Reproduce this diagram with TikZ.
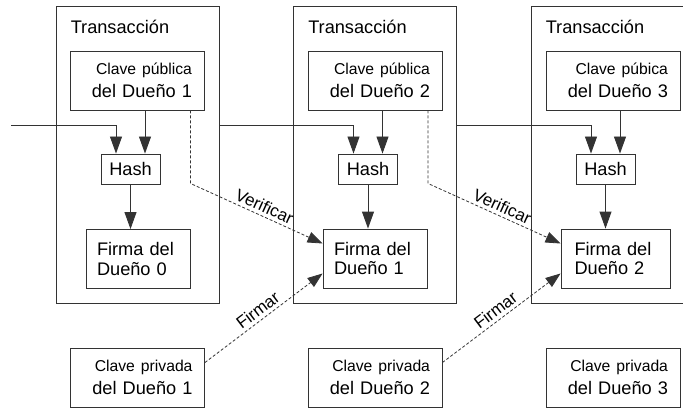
\documentclass[tikz,border=0pt]{standalone}
\usepackage{fontspec}
\setmainfont{Liberation Sans}
\usetikzlibrary{arrows.meta,positioning}
\newcommand\bigtxt{\fontsize{18.2}{23}\selectfont}
\newcommand\smalltxt{\fontsize{15.7}{23}\selectfont}
\tikzset{
  box/.style={draw=black!80, line width=0.9pt, inner sep=0pt},
  txbox/.style={box, minimum width=163pt, minimum height=297pt},
  keybox/.style={box, minimum width=134pt, minimum height=59pt, text width=110pt, inner xsep=12pt, align=right, font=\bigtxt},
  hashbox/.style={box, minimum width=59pt, minimum height=30pt, font=\bigtxt},
  sigbox/.style={box, minimum width=104pt, minimum height=59pt, text width=82pt, inner xsep=11pt, align=left, font=\fontsize{18.2}{19.5}\selectfont},
  title/.style={anchor=base west, font=\bigtxt, inner sep=0pt},
  flow/.style={draw=black!80, line width=0.9pt, -{Triangle[length=17pt,width=12pt]}},
  sigline/.style={draw=black!80, line width=0.8pt, dash pattern=on 3pt off 2pt, -{Triangle[length=15pt,width=11pt]}},
  act/.style={sloped, above, font=\fontsize{17}{20}\selectfont},
}
\begin{document}
\begin{tikzpicture}[x=1pt,y=-1pt]
  \useasboundingbox (0,0) rectangle (683,409);
  \clip (0,0) rectangle (683,409);
  % transactions
  \node (tx1) [txbox] at (137.5,154.5) {};
  \node (tx2) [txbox] at (375,154.5) {};
  \node (tx3) [txbox] at (612.5,154.5) {};
  \foreach \i in {1,2,3}
    \node (title\i) [title] at ([xshift=15pt,yshift=-28pt]tx\i.north west) {Transacción};
  % public keys
  \node (pub1) [keybox] at (137,80.5) {{\smalltxt Clave pública}\\del Dueño 1};
  \node (pub2) [keybox] at (375,80.5) {{\smalltxt Clave pública}\\del Dueño 2};
  \node (pub3) [keybox] at (613,80.5) {{\smalltxt Clave púbica}\hspace*{7pt}\\del Dueño 3};
  % hashes
  \node (hash1) [hashbox] at (130.5,169) {Hash};
  \node (hash2) [hashbox] at (368,169) {Hash};
  \node (hash3) [hashbox] at (605.5,169) {Hash};
  % signatures
  \node (sig0) [sigbox] at (138,259) {Firma del\\Dueño 0};
  \node (sig1) [sigbox] at (375,258.5) {Firma del\\Dueño 1};
  \node (sig2) [sigbox, minimum width=109pt] at (615.5,258.5) {Firma del\\Dueño 2};
  % private keys
  \node (priv1) [keybox] at (137.5,377.5) {{\smalltxt Clave privada}\\del Dueño 1};
  \node (priv2) [keybox] at (375,377.5) {{\smalltxt Clave privada}\\del Dueño 2};
  \node (priv3) [keybox] at (613,377.5) {{\smalltxt Clave privada}\\del Dueño 3};
  % chain into the hashes
  \coordinate (in) at (11,125);
  \draw[flow] (in) -| ([xshift=-14.5pt]hash1.north);
  \draw[flow] (tx1.east |- in) -| ([xshift=-14.5pt]hash2.north);
  \draw[flow] (tx2.east |- in) -| ([xshift=-14.5pt]hash3.north);
  \foreach \i in {1,2,3}
    \draw[flow] ([xshift=14.5pt]hash\i.north |- pub\i.south) -- ([xshift=14.5pt]hash\i.north);
  \draw[flow] (hash1.south) -- (hash1.south |- sig0.north);
  \draw[flow] (hash2.south) -- (hash2.south |- sig1.north);
  \draw[flow] (hash3.south) -- (hash3.south |- sig2.north);
  % verify and sign
  \draw[sigline] ([xshift=-14pt]pub1.south east) -- ++(0,73)
    -- node[act, pos=0.53] {Verificar} ([yshift=15pt]sig1.west);
  \draw[sigline] ([xshift=-14.5pt]pub2.south east) -- ++(0,73)
    -- node[act, pos=0.53] {Verificar} ([yshift=15pt]sig2.west);
  \draw[sigline] ([yshift=15pt]priv1.east) -- node[act] {Firmar} ([yshift=-15pt]sig1.west);
  \draw[sigline] ([yshift=15pt]priv2.east) -- node[act] {Firmar} ([yshift=-15pt]sig2.west);
\end{tikzpicture}
\end{document}
